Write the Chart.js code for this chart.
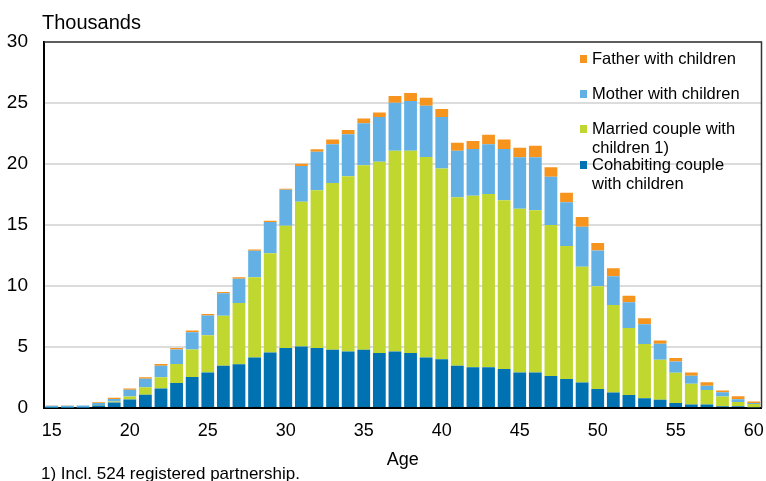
<!DOCTYPE html>
<html>
<head>
<meta charset="utf-8">
<script src="https://cdn.jsdelivr.net/npm/chart.js@4/dist/chart.umd.min.js"></script>
<style>
  html, body { margin: 0; padding: 0; background: #fff; }
  #wrap { position: relative; width: 766px; height: 481px; overflow: hidden; font-family: "Liberation Sans", Arial, sans-serif; color: #000; }
  canvas { position: absolute; left: 0; top: 0; }
  .unit { position: absolute; left: 42px; top: 10px; font-size: 20px; line-height: 24px; }
  .note { position: absolute; left: 41px; top: 464px; font-size: 17px; line-height: 20px; white-space: nowrap; }
  .legend { position: absolute; left: 580px; top: 0; font-size: 16.5px; }
  .item { position: absolute; left: 0; white-space: nowrap; line-height: 19px; }
  .sw { position: absolute; left: 0; top: 6px; width: 7px; height: 8px; }
  .lt { position: absolute; left: 12px; top: 0; }
</style>
</head>
<body>
<div id="wrap">
  <canvas id="c" width="766" height="481"></canvas>
  <div class="unit">Thousands</div>
  <div class="legend" id="legend"></div>
  <div class="note">1) Incl. 524 registered partnership.</div>
</div>
<script>
const ages = [15,16,17,18,19,20,21,22,23,24,25,26,27,28,29,30,31,32,33,34,35,36,37,38,39,40,41,42,43,44,45,46,47,48,49,50,51,52,53,54,55,56,57,58,59,60];
const cohabiting = [0.03,0.03,0.04,0.20,0.45,0.70,1.08,1.60,2.04,2.54,2.92,3.47,3.58,4.13,4.54,4.91,5.04,4.91,4.78,4.64,4.78,4.51,4.64,4.51,4.13,3.99,3.47,3.33,3.33,3.20,2.91,2.91,2.62,2.38,2.10,1.56,1.28,1.07,0.79,0.67,0.42,0.28,0.28,0.15,0.15,0.06];
const married = [0.01,0.01,0.01,0.05,0.08,0.25,0.63,0.93,1.56,2.25,3.05,4.09,5.02,6.58,8.15,10.02,11.87,12.93,13.66,14.35,15.11,15.68,16.45,16.58,16.44,15.65,13.80,14.07,14.21,13.82,13.42,13.30,12.38,10.90,9.48,8.41,7.16,5.49,4.46,3.28,2.47,1.70,1.19,0.79,0.35,0.26];
const mother = [0.15,0.15,0.15,0.15,0.20,0.55,0.69,0.94,1.19,1.42,1.62,1.84,2.00,2.17,2.55,2.95,2.92,3.17,3.17,3.44,3.44,3.66,3.94,4.07,4.21,4.21,3.82,3.83,4.07,4.21,4.23,4.35,3.96,3.58,3.28,2.93,2.35,2.10,1.61,1.31,0.93,0.66,0.35,0.35,0.21,0.09];
const father = [0.01,0.01,0.01,0.08,0.10,0.10,0.13,0.13,0.13,0.14,0.11,0.10,0.11,0.11,0.11,0.10,0.20,0.20,0.39,0.36,0.39,0.38,0.54,0.66,0.66,0.66,0.66,0.66,0.79,0.77,0.77,0.93,0.77,0.79,0.80,0.62,0.66,0.55,0.49,0.27,0.27,0.27,0.29,0.15,0.25,0.13];
const yTicks = [0,5,10,15,20,25,30];

const seriesNames = ["Cohabiting couple with children", "Married couple with children 1)", "Mother with children", "Father with children"];
const seriesColors = ["#0072B1", "#C0D730", "#63B1E4", "#F7941D"];
const seriesData = [cohabiting, married, mother, father];

const legendEntries = [
  { idx: 3, lines: ["Father with children"], top: 49 },
  { idx: 2, lines: ["Mother with children"], top: 84 },
  { idx: 1, lines: ["Married couple with", "children 1)"], top: 119 },
  { idx: 0, lines: ["Cohabiting couple", "with children"], top: 155 }
];
const lg = document.getElementById('legend');
legendEntries.forEach(e => {
  const d = document.createElement('div');
  d.className = 'item';
  d.style.top = e.top + 'px';
  const sw = document.createElement('div');
  sw.className = 'sw';
  sw.style.background = seriesColors[e.idx];
  const t = document.createElement('div');
  t.className = 'lt';
  t.innerHTML = e.lines.join('<br>');
  d.appendChild(sw); d.appendChild(t);
  lg.appendChild(d);
});

const framePlugin = {
  id: 'frame',
  afterDraw(chart) {
    const a = chart.chartArea, ctx = chart.ctx;
    ctx.save();
    ctx.strokeStyle = '#333';
    ctx.lineWidth = 1.5;
    ctx.beginPath();
    ctx.moveTo(a.left, a.top);
    ctx.lineTo(a.right, a.top);
    ctx.lineTo(a.right, a.bottom);
    ctx.stroke();
    ctx.restore();
  }
};

new Chart(document.getElementById('c'), {
  type: 'bar',
  data: {
    labels: ages,
    datasets: seriesData.map((d, i) => ({
      label: seriesNames[i],
      data: d,
      backgroundColor: seriesColors[i],
      borderWidth: 0,
      barPercentage: 0.82,
      categoryPercentage: 1.0
    }))
  },
  options: {
    responsive: false,
    animation: false,
    devicePixelRatio: 1,
    layout: { padding: { top: 42, right: 4.5, bottom: 0, left: 0 } },
    plugins: { legend: { display: false }, tooltip: { enabled: false } },
    scales: {
      x: {
        stacked: true,
        grid: { display: false, drawTicks: false },
        border: { color: '#000', width: 2 },
        ticks: {
          autoSkip: false,
          maxRotation: 0,
          padding: 12,
          color: '#000',
          font: { family: '"Liberation Sans", Arial, sans-serif', size: 18 },
          callback: function(v, i) { const a = ages[i]; return a % 5 === 0 ? String(a) : ''; }
        },
        title: {
          display: true, text: 'Age', color: '#000',
          font: { family: '"Liberation Sans", Arial, sans-serif', size: 18 },
          padding: { top: 0, bottom: 10 }
        },
        afterFit(s) { s.height = 73; s.paddingLeft = 0; s.paddingRight = 0; }
      },
      y: {
        stacked: true,
        min: 0, max: 30,
        afterBuildTicks(s) { s.ticks = yTicks.map(v => ({ value: v })); },
        grid: { color: '#dcdcdc', lineWidth: 2, drawTicks: false },
        border: { color: '#000', width: 2 },
        ticks: {
          padding: 16,
          color: '#000',
          font: { family: '"Liberation Sans", Arial, sans-serif', size: 19 }
        },
        afterFit(s) { s.width = 44; }
      }
    }
  },
  plugins: [framePlugin]
});
</script>
</body>
</html>
